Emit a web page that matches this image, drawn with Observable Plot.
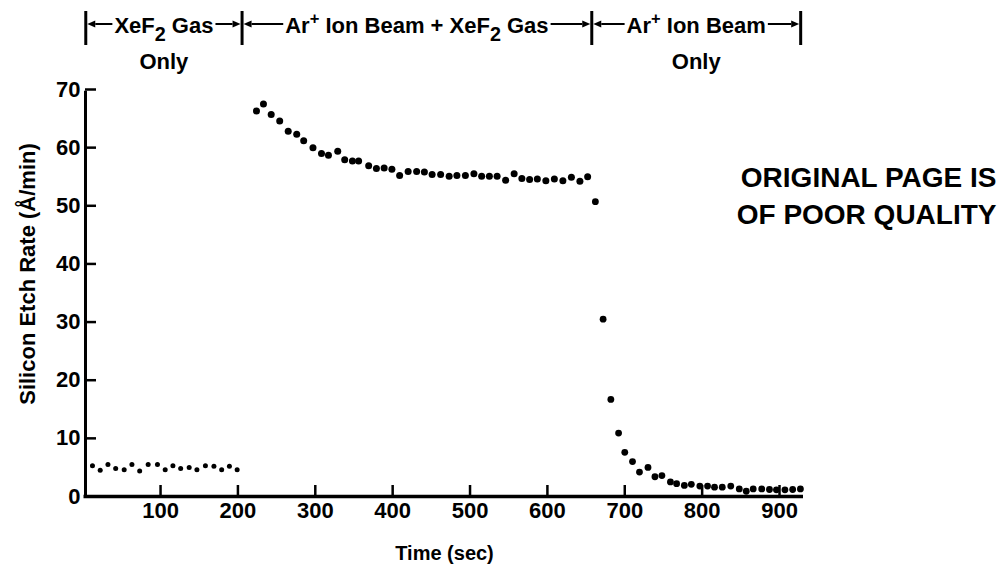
<!DOCTYPE html>
<html>
<head>
<meta charset="utf-8">
<script src="https://cdn.jsdelivr.net/npm/d3@7"></script>
<script src="https://cdn.jsdelivr.net/npm/@observablehq/plot@0.6"></script>
<style>
  html, body { margin: 0; padding: 0; background: #fff; }
  #chart svg { display: block; }
</style>
</head>
<body>
<div id="chart"></div>
<script>
// Silicon etch rate (Å/min) against time (sec), three exposure phases.
const gasTime = [12, 22, 32, 42, 53, 63, 73, 84, 96, 106, 116, 126, 137, 147, 158, 169, 179, 189, 199];
const gasRate = [5.3, 4.5, 5.5, 4.8, 4.6, 5.5, 4.4, 5.5, 5.5, 4.6, 5.3, 4.8, 5.0, 4.6, 5.3, 5.2, 4.6, 5.2, 4.6];

const mixTime = [224, 233, 243, 254, 265, 276, 285, 297, 308, 317, 329, 338, 348, 356, 369, 379, 389, 399, 409, 420,
                 431, 441, 451, 462, 473, 483, 494, 505, 515, 525, 535, 546, 557, 567, 577, 587, 598, 609, 620, 631,
                 642, 652];
const mixRate = [66.3, 67.5, 65.7, 64.6, 62.8, 62.3, 61.2, 60.0, 59.0, 58.7, 59.4, 57.9, 57.7, 57.7, 56.9, 56.4, 56.5, 56.3, 55.2, 55.9,
                 55.9, 55.8, 55.4, 55.4, 55.1, 55.2, 55.2, 55.5, 55.1, 55.1, 55.1, 54.4, 55.5, 54.7, 54.5, 54.6, 54.3, 54.6, 54.3, 54.9,
                 54.2, 55.0];

const ionTime = [662, 672, 682, 692, 700, 710, 719, 730, 739, 748, 759, 767, 777, 786, 797, 807, 816, 826, 837, 848,
                 857, 866, 877, 887, 896, 907, 917, 927];
const ionRate = [50.7, 30.5, 16.7, 10.9, 7.6, 6.0, 4.2, 5.0, 3.4, 3.6, 2.5, 2.2, 1.9, 2.1, 1.8, 1.8, 1.6, 1.6, 1.8, 1.3,
                 0.9, 1.3, 1.3, 1.2, 1.15, 1.15, 1.2, 1.3];

const xTicks = [100, 200, 300, 400, 500, 600, 700, 800, 900];
const yTicks = [0, 10, 20, 30, 40, 50, 60, 70];

// Phase boundaries (sec) and their header labels; "_" lowers and "^" raises the next character.
const phaseEdges = [4, 206, 658, 928];
const phaseLabels = ["XeF_2 Gas", "Ar^+ Ion Beam + XeF_2 Gas", "Ar^+ Ion Beam"];
const phaseNotes = ["Only", "", "Only"];

const stampText = "ORIGINAL PAGE IS\nOF POOR QUALITY";

const toRows = (ts, vs) => ts.map((t, i) => ({t, rate: vs[i]}));
const gas = toRows(gasTime, gasRate);
const mix = toRows(mixTime, mixRate);
const ion = toRows(ionTime, ionRate);

const W = 999, H = 566;
const mL = 85, mR = 196, mT = 89, mB = 70;
const frameW = W - mL - mR, frameH = H - mT - mB;
const font = "'Liberation Sans', Arial, Helvetica, sans-serif";

const chart = Plot.plot({
  width: W,
  height: H,
  marginLeft: mL,
  marginRight: mR,
  marginTop: mT,
  marginBottom: mB,
  style: {fontFamily: font, fontWeight: "bold", background: "#fff", color: "#000", overflow: "visible"},
  x: {domain: [3, 931]},
  y: {domain: [0, 70]},
  marks: [
    // axis lines
    Plot.ruleY([0], {stroke: "#000", strokeWidth: 3.5, insetLeft: -1.5}),
    Plot.ruleX([3], {y1: 0, y2: 70, stroke: "#000", strokeWidth: 3, insetBottom: -1.7}),
    // inward ticks
    Plot.ruleX(xTicks, {stroke: "#000", strokeWidth: 2.5, insetTop: frameH - 11}),
    Plot.ruleY(yTicks.filter(v => v > 0), {stroke: "#000", strokeWidth: 2.5, insetRight: frameW - 11}),
    Plot.axisX({ticks: xTicks, tickSize: 0, tickPadding: 6, fontSize: 22, fontWeight: "bold", label: null}),
    Plot.axisY({ticks: yTicks, tickSize: 0, tickPadding: 5, fontSize: 22, fontWeight: "bold", label: null}),
    Plot.text(["Time (sec)"], {frameAnchor: "bottom", lineAnchor: "middle", dy: 57, fontSize: 20, fontWeight: "bold", fill: "#000"}),
    Plot.text(["Silicon Etch Rate (Å/min)"], {frameAnchor: "left", textAnchor: "middle", lineAnchor: "middle", rotate: -90, dx: -58, dy: -19, fontSize: 22, fontWeight: "bold", fill: "#000"}),
    Plot.text([stampText], {frameAnchor: "top-right", textAnchor: "end", lineAnchor: "middle", dx: 193, dy: 104, lineHeight: 1.32, fontSize: 28, fontWeight: "bold", fill: "#000"}),
    // measurements
    Plot.dot(gas, {x: "t", y: "rate", r: 2.5, fill: "#000"}),
    Plot.dot(mix, {x: "t", y: "rate", r: 3.5, fill: "#000"}),
    Plot.dot(ion, {x: "t", y: "rate", r: 3.4, fill: "#000"})
  ]
});

document.getElementById("chart").append(chart);

// Phase header: bars at the boundaries, arrows from each label to its bars.
const xs = chart.scale("x");
const svg = d3.select(chart);
const head = svg.append("g").attr("font-family", font).attr("font-weight", "bold").attr("fill", "#000");
const headSize = 22, baseY = 33, arrowY = 24, noteY = 69;

function addRich(textSel, label, size) {
  const parts = [];
  for (let i = 0; i < label.length; i++) {
    const c = label[i];
    if ((c === "_" || c === "^") && i + 1 < label.length) {
      parts.push({s: label[i + 1], shift: c === "_" ? 1 : -1});
      i++;
    } else if (parts.length && parts[parts.length - 1].shift === 0) {
      parts[parts.length - 1].s += c;
    } else {
      parts.push({s: c, shift: 0});
    }
  }
  let cur = 0;
  for (const p of parts) {
    const target = p.shift === 1 ? 8 : p.shift === -1 ? -9 : 0;
    const size2 = p.shift === 1 ? size * 0.9 : p.shift === -1 ? size * 0.75 : size;
    textSel.append("tspan").attr("dy", target - cur).attr("font-size", size2).text(p.s);
    cur = target;
  }
}

function arrow(from, to, y) {
  const dir = Math.sign(to - from), len = 8, half = 3.5;
  head.append("line")
    .attr("x1", from).attr("x2", to - dir * len).attr("y1", y).attr("y2", y)
    .attr("stroke", "#000").attr("stroke-width", 2);
  head.append("path")
    .attr("d", `M${to},${y}L${to - dir * len},${y - half}L${to - dir * len},${y + half}Z`)
    .attr("fill", "#000");
}

for (const e of phaseEdges) {
  const px = xs.apply(e);
  head.append("line").attr("x1", px).attr("x2", px).attr("y1", 11).attr("y2", 45)
    .attr("stroke", "#000").attr("stroke-width", 3);
}

phaseLabels.forEach((label, i) => {
  const x0 = xs.apply(phaseEdges[i]), x1 = xs.apply(phaseEdges[i + 1]);
  const cx = (x0 + x1) / 2;
  const t = head.append("text").attr("x", cx).attr("y", baseY).attr("text-anchor", "middle").attr("font-size", headSize);
  addRich(t, label, headSize);
  const bb = t.node().getBBox();
  arrow(bb.x - 2, x0 + 1.5, arrowY);
  arrow(bb.x + bb.width + 2, x1 - 1.5, arrowY);
  if (phaseNotes[i]) {
    head.append("text").attr("x", cx).attr("y", noteY).attr("text-anchor", "middle")
      .attr("font-size", headSize).text(phaseNotes[i]);
  }
});
</script>
</body>
</html>
